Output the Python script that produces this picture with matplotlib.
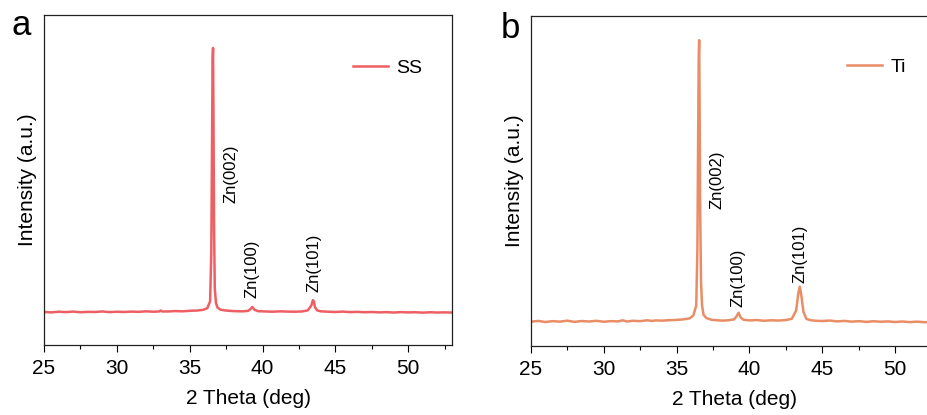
import matplotlib
matplotlib.use('Agg')
import matplotlib.pyplot as plt

plt.rcParams['font.family'] = ['Liberation Sans', 'DejaVu Sans']

# %%
# XRD traces (2 theta in deg, intensity in a.u.)
tt_ss = [25.0, 25.5, 26.0, 26.5, 27.0, 27.5, 28.0, 28.5, 29.0, 29.5, 30.0, 30.5,
         31.0, 31.5, 32.0, 32.5, 32.9, 33.0, 33.1, 33.5, 34.0, 34.5, 35.0, 35.5,
         35.9, 36.2, 36.4, 36.48, 36.53, 36.57, 36.6, 36.63, 36.67, 36.72, 36.8,
         36.9, 37.1, 37.4, 37.8, 38.2, 38.6, 39.0, 39.15, 39.3, 39.45, 39.7, 40.2,
         40.7, 41.2, 41.7, 42.2, 42.7, 43.1, 43.35, 43.45, 43.52, 43.6, 43.75, 44.0,
         44.5, 45.0, 45.5, 46.0, 46.5, 47.0, 47.5, 48.0, 48.5, 49.0, 49.5, 50.0,
         50.5, 51.0, 51.5, 52.0, 52.5, 53.0]
int_ss = [250, 247, 252, 249, 253, 248, 251, 250, 254, 249, 252, 250,
          253, 251, 255, 252, 254, 261, 254, 254, 257, 255, 259, 261,
          266, 278, 330, 700, 1500, 2150, 2250, 1750, 900, 430, 320,
          285, 268, 262, 258, 256, 255, 258, 270, 288, 266, 256, 254,
          252, 255, 253, 252, 254, 262, 300, 340, 330, 285, 262, 255,
          252, 250, 253, 249, 251, 248, 250, 247, 249, 246, 249, 247,
          248, 245, 248, 246, 247, 246]

tt_ti = [25.0, 25.5, 26.0, 26.5, 27.0, 27.5, 28.0, 28.5, 29.0, 29.5, 30.0, 30.5,
         31.0, 31.3, 31.6, 32.0, 32.5, 33.0, 33.3, 33.6, 34.0, 34.5, 35.0, 35.5,
         35.9, 36.15, 36.35, 36.43, 36.48, 36.52, 36.55, 36.58, 36.62, 36.68,
         36.75, 36.85, 37.05, 37.4, 37.8, 38.2, 38.6, 38.95, 39.1, 39.25, 39.4,
         39.6, 40.0, 40.5, 41.0, 41.5, 42.0, 42.5, 42.9, 43.2, 43.35, 43.45,
         43.55, 43.7, 43.9, 44.2, 44.6, 45.0, 45.5, 46.0, 46.5, 47.0, 47.5, 48.0,
         48.5, 49.0, 49.5, 50.0, 50.5, 51.0, 51.5, 52.0, 52.5, 53.0]
int_ti = [198, 205, 196, 203, 199, 207, 197, 204, 200, 206, 198, 203,
          201, 210, 200, 206, 203, 210, 205, 209, 207, 211, 213, 218,
          226, 250, 330, 800, 1700, 2350, 2500, 2000, 1100, 520,
          330, 255, 228, 214, 210, 207, 211, 218, 240, 272, 232,
          214, 209, 212, 206, 210, 208, 212, 222, 290, 430, 485,
          420, 280, 222, 210, 206, 204, 208, 201, 205, 199, 203, 197,
          202, 198, 201, 196, 200, 195, 199, 194, 198, 195]

peaks_ss = [36.6, 39.3, 43.5]
peaks_ti = [36.55, 39.25, 43.45]
peak_labels = ['Zn(002)', 'Zn(100)', 'Zn(101)']

# %%
fig = plt.figure(figsize=(9.28, 4.15), dpi=100)
ax_a = fig.add_axes([0.0474, 0.1687, 0.4397, 0.7952])
ax_b = fig.add_axes([0.5719, 0.1663, 0.4400, 0.7959])

panels = [
    (ax_a, tt_ss, int_ss, peaks_ss, 'SS', '#EE5F63', 2500,
     [(1.2, 1076), (-0.05, 356), (0.0, 401)], (0.757, 0.839)),
    (ax_b, tt_ti, int_ti, peaks_ti, 'Ti', '#E98D66', 2700,
     [(1.21, 1120), (-0.05, 319), (0.02, 515)], (0.775, 0.845)),
]

for ax, x, y, peaks, name, color, ytop, lab_pos, leg_pos in panels:
    ax.plot(x, y, color=color, lw=1.8, label=name)
    ax.set_xlim(25, 53)
    ax.set_ylim(0, ytop)
    ax.set_xticks([25, 30, 35, 40, 45, 50])
    ax.set_xticks([27.5, 32.5, 37.5, 42.5, 47.5, 52.5], minor=True)
    ax.set_yticks([])
    ax.tick_params(axis='x', which='major', length=5, width=0.8, labelsize=15, pad=5)
    ax.tick_params(axis='x', which='minor', length=3, width=0.8)
    for s in ax.spines.values():
        s.set_linewidth(0.9)
        s.set_color('#222222')
    ax.set_xlabel('2 Theta (deg)', fontsize=15, labelpad=8)
    ax.set_ylabel('Intensity (a.u.)', fontsize=15, labelpad=5)
    for p, lab, (dx, ly) in zip(peaks, peak_labels, lab_pos):
        ax.text(p + dx, ly, lab, rotation=90, ha='center', va='bottom', fontsize=12)
    ax.legend(loc='center left', bbox_to_anchor=leg_pos, frameon=False,
              fontsize=14, handlelength=1.8, handletextpad=0.45,
              borderpad=0, borderaxespad=0)

fig.text(12 / 928, 1 - 35 / 415, 'a', fontsize=25, va='baseline')
fig.text(501 / 928, 1 - 38 / 415, 'b', fontsize=25, va='baseline')

fig.savefig('out.png', dpi=100)
